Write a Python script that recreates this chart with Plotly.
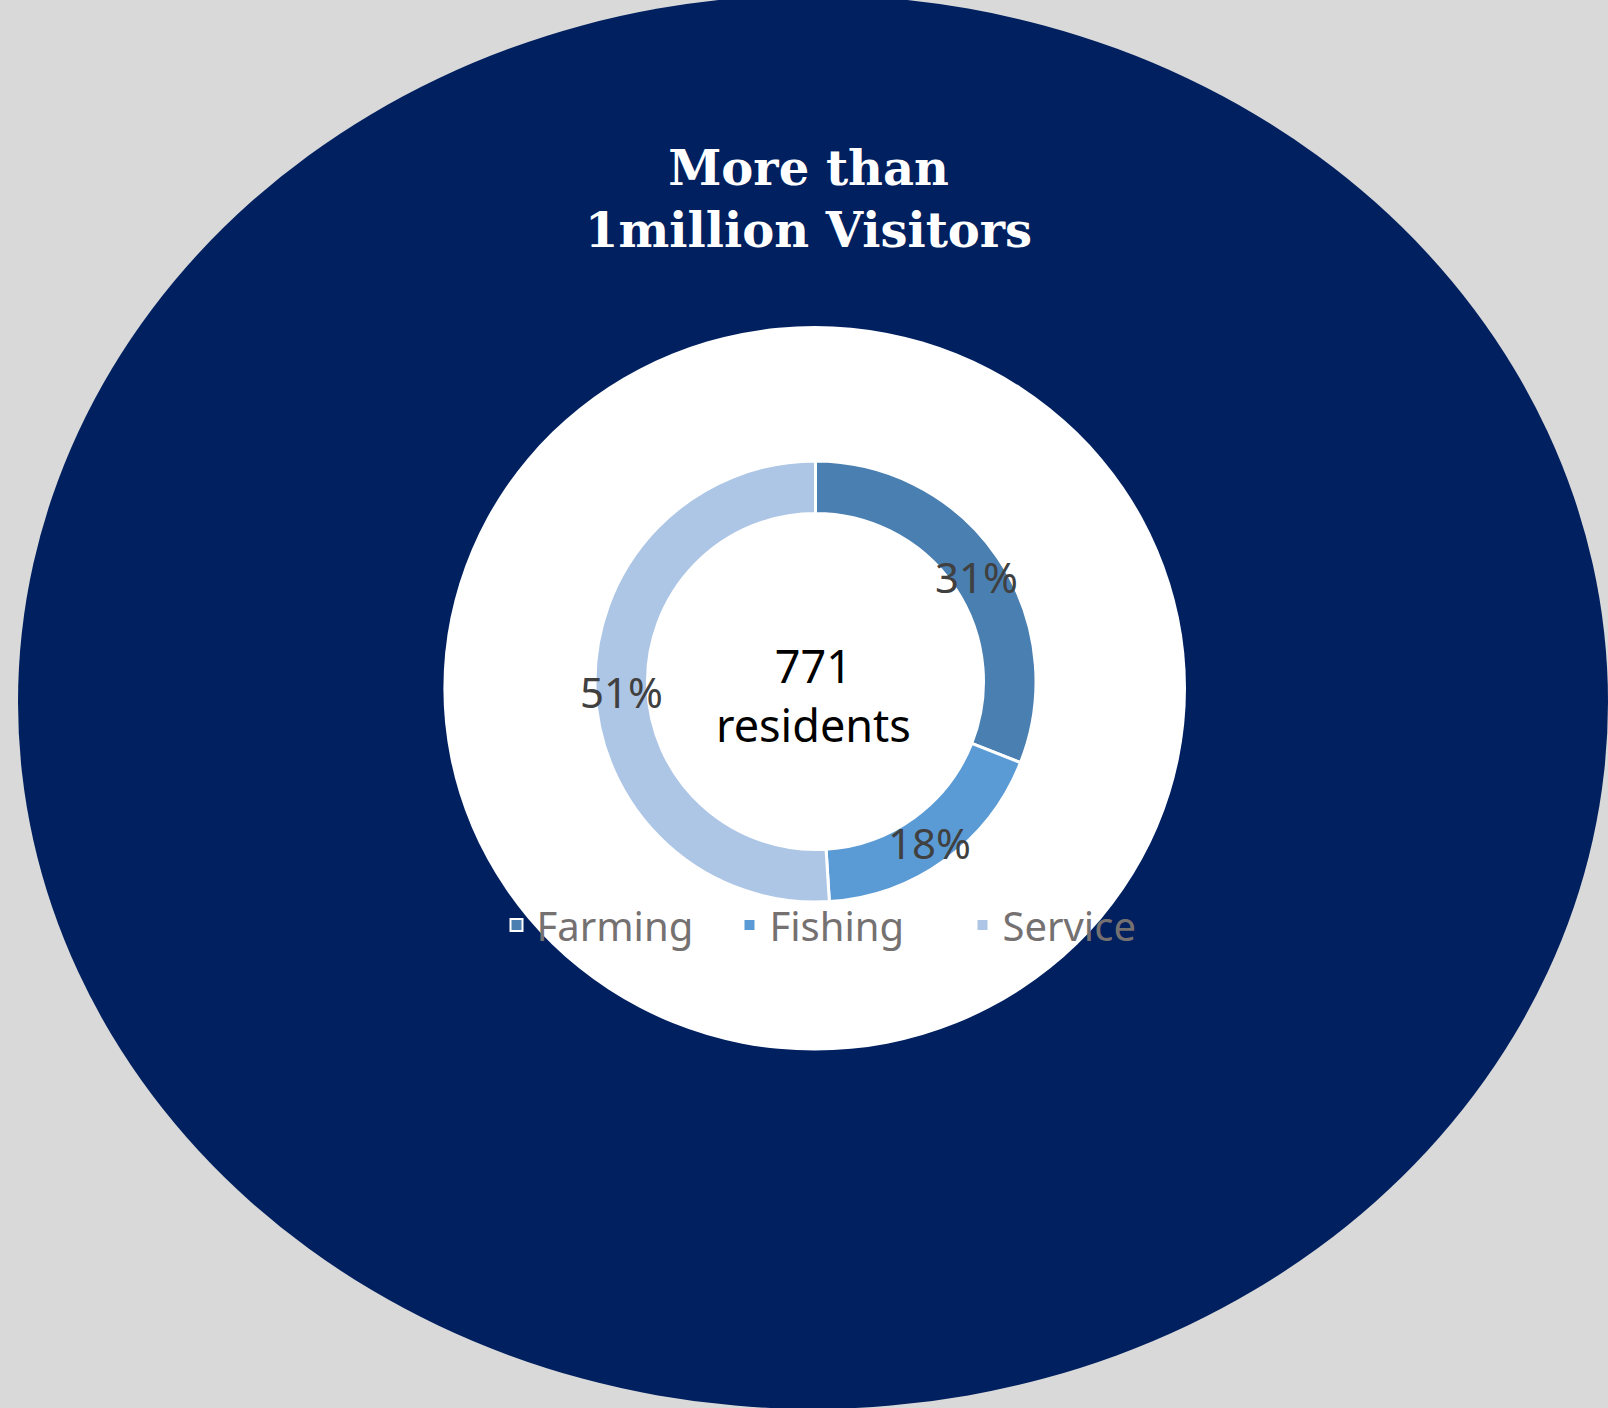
import math
import plotly.graph_objects as go

# ---- data ----
categories = ["Farming", "Fishing", "Service"]
shares = [31, 18, 51]
colors = ["#4a7fb1", "#5b9bd5", "#adc6e6"]
center_text = ["771", "residents"]
title_lines = ["More than", "1million Visitors"]

W, H = 1608, 1408

# pie geometry (pixels, from top-left)
cx, cy = 815.5, 681.5
r_out, r_in = 220.5, 168.0

dom_x = [(cx - r_out) / W, (cx + r_out) / W]
dom_y = [(H - cy - r_out) / H, (H - cy + r_out) / H]

fig = go.Figure()
fig.add_trace(go.Pie(
    labels=categories,
    values=shares,
    sort=False,
    direction="clockwise",
    rotation=0,
    hole=r_in / r_out,
    marker=dict(colors=colors, line=dict(color="white", width=3)),
    textinfo="none",
    domain=dict(x=dom_x, y=dom_y),
    showlegend=True,
))

annotations = []
# percentage labels, placed at the middle of each slice on the ring
total = sum(shares)
cum = 0
r_mid = (r_out + r_in) / 2
for v in shares:
    mid = (cum + v / 2) / total * 2 * math.pi
    cum += v
    px = cx + r_mid * math.sin(mid)
    py = cy - r_mid * math.cos(mid) + 4
    annotations.append(dict(
        x=px / W, y=(H - py) / H, xref="paper", yref="paper",
        text=f"{round(v / total * 100)}%", showarrow=False,
        font=dict(family="Noto Sans", size=42, color="#404040"),
        xanchor="center", yanchor="middle",
    ))

annotations.append(dict(
    x=813 / W, y=(H - 695) / H, xref="paper", yref="paper",
    text="<br>".join(center_text), showarrow=False,
    font=dict(family="Noto Sans", size=45, color="#000000"),
    xanchor="center", yanchor="middle",
))

annotations.append(dict(
    x=808 / W, y=(H - 199) / H, xref="paper", yref="paper",
    text="<b>" + "<br>".join(title_lines) + "</b>", showarrow=False,
    font=dict(family="DejaVu Serif", size=48, color="#ffffff"),
    xanchor="center", yanchor="middle",
))

shapes = [
    dict(type="circle", xref="paper", yref="paper", layer="below",
         x0=(813 - 795) / W, x1=(813 + 795) / W,
         y0=(H - (702 + 707)) / H, y1=(H - (702 - 707)) / H,
         fillcolor="#002060", line=dict(width=0)),
    dict(type="circle", xref="paper", yref="paper", layer="below",
         x0=(814.7 - 371.3) / W, x1=(814.7 + 371.3) / W,
         y0=(H - (688.3 + 362.3)) / H, y1=(H - (688.3 - 362.3)) / H,
         fillcolor="#ffffff", line=dict(width=0)),
]

fig.update_layout(
    width=W, height=H,
    margin=dict(l=0, r=0, t=0, b=0),
    paper_bgcolor="#d9d9d9",
    plot_bgcolor="rgba(0,0,0,0)",
    shapes=shapes,
    annotations=annotations,
    legend=dict(
        orientation="h",
        x=846 / W, y=(H - 925) / H,
        xanchor="center", yanchor="middle",
        bgcolor="rgba(0,0,0,0)",
        font=dict(family="Noto Sans", size=40, color="#767171"),
        itemsizing="constant",
        entrywidth=188,
        entrywidthmode="pixels",
    ),
)

fig.write_html("out.html")
